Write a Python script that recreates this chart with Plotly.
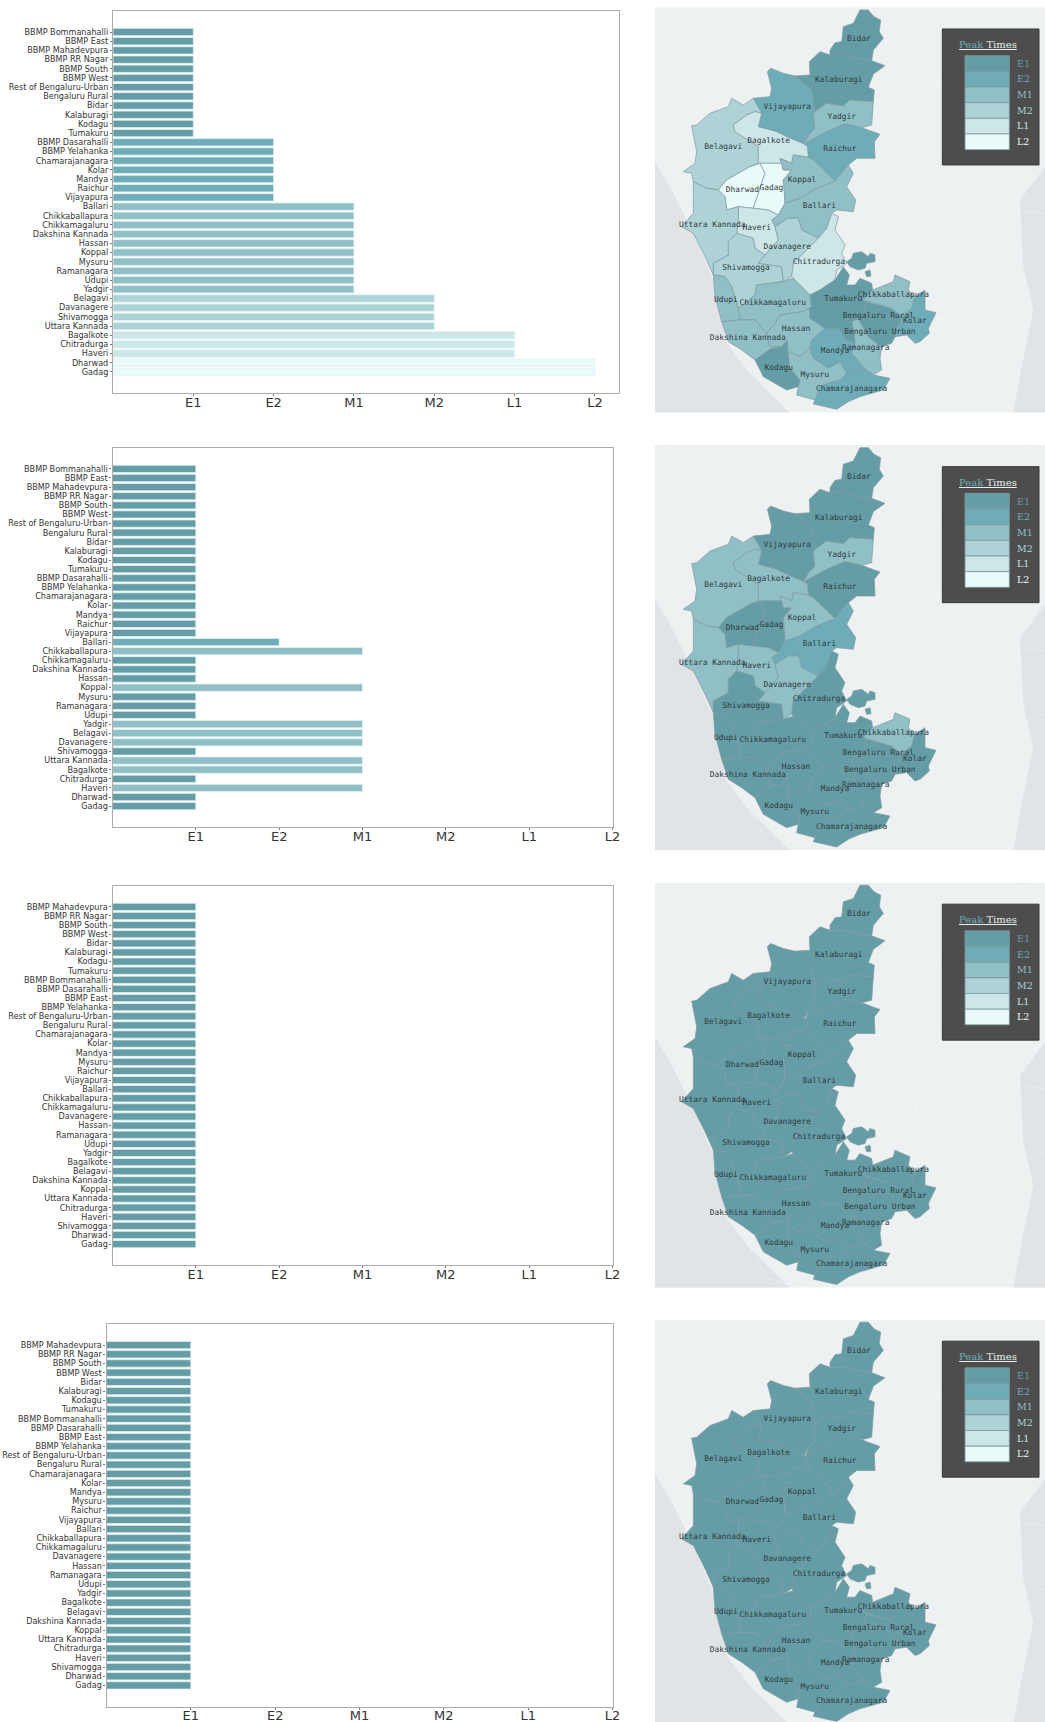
import plotly.graph_objects as go

W, H = 1045, 1722

# ---------- values ----------
LEVELS = ["E1", "E2", "M1", "M2", "L1", "L2"]
LEVEL_COLORS = ["#659da6", "#6eadb8", "#90bfc6", "#aed3d6", "#cde6e7", "#eafafa"]

P1_NAMES = ["BBMP Bommanahalli", "BBMP East", "BBMP Mahadevpura", "BBMP RR Nagar", "BBMP South", "BBMP West",
            "Rest of Bengaluru-Urban", "Bengaluru Rural", "Bidar", "Kalaburagi", "Kodagu", "Tumakuru",
            "BBMP Dasarahalli", "BBMP Yelahanka", "Chamarajanagara", "Kolar", "Mandya", "Raichur", "Vijayapura",
            "Ballari", "Chikkaballapura", "Chikkamagaluru", "Dakshina Kannada", "Hassan", "Koppal", "Mysuru",
            "Ramanagara", "Udupi", "Yadgir", "Belagavi", "Davanagere", "Shivamogga", "Uttara Kannada",
            "Bagalkote", "Chitradurga", "Haveri", "Dharwad", "Gadag"]
P1_PEAK = ["E1"] * 12 + ["E2"] * 7 + ["M1"] * 10 + ["M2"] * 4 + ["L1"] * 3 + ["L2"] * 2

P2_NAMES = P1_NAMES
P2_PEAK = ["E1"] * 19 + ["E2", "M1", "E1", "E1", "E1", "M1", "E1", "E1", "E1", "M1", "M1", "M1", "E1", "M1",
                         "M1", "E1", "M1", "E1", "E1"]

P3_NAMES = ["BBMP Mahadevpura", "BBMP RR Nagar", "BBMP South", "BBMP West", "Bidar", "Kalaburagi", "Kodagu",
            "Tumakuru", "BBMP Bommanahalli", "BBMP Dasarahalli", "BBMP East", "BBMP Yelahanka",
            "Rest of Bengaluru-Urban", "Bengaluru Rural", "Chamarajanagara", "Kolar", "Mandya", "Mysuru", "Raichur",
            "Vijayapura", "Ballari", "Chikkaballapura", "Chikkamagaluru", "Davanagere", "Hassan", "Ramanagara",
            "Udupi", "Yadgir", "Bagalkote", "Belagavi", "Dakshina Kannada", "Koppal", "Uttara Kannada",
            "Chitradurga", "Haveri", "Shivamogga", "Dharwad", "Gadag"]
P3_PEAK = ["E1"] * 38
P4_NAMES = P3_NAMES
P4_PEAK = ["E1"] * 38

# ---------- map data: district outlines and label anchors, in map units ----------
BIDAR = [(630, 30), (655, 30), (672, 50), (692, 60), (688, 95), (700, 115), (670, 150), (665, 182), (620, 175),
         (580, 165), (540, 165), (540, 150), (555, 128), (575, 125), (580, 80), (610, 70)]
KALABURAGI = [(478, 185), (510, 155), (540, 165), (580, 165), (620, 175), (665, 182), (705, 197), (670, 222),
              (655, 262), (673, 270), (670, 305), (600, 300), (580, 318), (530, 310), (495, 335), (485, 270),
              (435, 228), (480, 225)]
VIJAYAPURA = [(352, 215), (362, 205), (400, 220), (435, 228), (485, 270), (495, 335), (490, 345), (495, 385),
              (475, 405), (462, 432), (410, 410), (380, 395), (325, 380), (335, 340), (310, 295), (360, 290),
              (365, 265)]
YADGIR = [(495, 335), (530, 310), (580, 318), (600, 300), (670, 305), (665, 375), (635, 383), (585, 372),
          (530, 395), (468, 429), (475, 405), (495, 385), (490, 345)]
RAICHUR = [(462, 432), (530, 395), (585, 372), (635, 383), (690, 403), (673, 425), (675, 475), (620, 475),
           (595, 495), (555, 543), (490, 480), (475, 472), (472, 440)]
BELAGAVI = [(125, 378), (140, 375), (180, 340), (235, 320), (245, 295), (280, 315), (310, 295), (335, 340),
            (315, 335), (290, 345), (250, 375), (255, 395), (295, 420), (325, 440), (325, 490), (300, 500),
            (230, 540), (205, 570), (170, 565), (130, 545), (125, 520), (100, 515), (135, 490), (140, 455)]
BAGALKOTE = [(250, 375), (290, 345), (315, 335), (335, 340), (325, 380), (380, 395), (410, 410), (462, 432),
             (472, 440), (475, 472), (430, 465), (425, 490), (390, 475), (395, 490), (330, 490), (300, 500),
             (325, 490), (325, 440), (295, 420), (255, 395)]
DHARWAD = [(205, 570), (230, 540), (300, 500), (330, 490), (345, 520), (322, 590), (310, 625), (265, 620),
           (230, 630), (225, 590)]
GADAG = [(330, 490), (395, 490), (400, 510), (425, 510), (400, 540), (405, 590), (405, 610), (385, 645), (355, 630),
         (310, 625), (322, 590), (345, 520)]
KOPPAL = [(390, 475), (425, 490), (430, 465), (475, 472), (490, 480), (555, 543), (490, 570), (450, 595),
          (405, 610), (405, 590), (400, 540), (425, 510), (400, 510), (395, 490)]
BALLARI = [(555, 543), (595, 495), (610, 520), (590, 560), (617, 600), (610, 635), (560, 630), (545, 640),
           (530, 685), (505, 715), (455, 690), (445, 655), (415, 655), (375, 680), (365, 660), (385, 645),
           (405, 610), (450, 595), (490, 570)]
HAVERI = [(265, 620), (310, 625), (355, 630), (385, 645), (365, 660), (375, 680), (385, 720), (345, 765),
          (315, 745), (310, 715), (260, 700), (265, 650)]
UTTARA_KANNADA = [(130, 545), (170, 565), (205, 570), (225, 590), (230, 630), (265, 620), (265, 650), (260, 700),
                  (235, 725), (235, 765), (190, 790), (190, 825), (165, 770), (130, 700), (95, 680), (130, 640),
                  (130, 590)]
SHIVAMOGGA = [(260, 700), (310, 715), (315, 745), (345, 765), (325, 790), (360, 795), (395, 800), (400, 845),
              (320, 855), (315, 885), (265, 925), (245, 860), (225, 830), (190, 825), (190, 790), (235, 765),
              (235, 725)]
DAVANAGERE = [(375, 680), (415, 655), (445, 655), (455, 690), (505, 715), (430, 790), (430, 800), (425, 830),
              (400, 845), (395, 800), (360, 795), (325, 790), (345, 765), (385, 720)]
CHITRADURGA = [(505, 715), (530, 685), (545, 640), (565, 650), (555, 690), (585, 735), (575, 760), (590, 790),
               (560, 810), (555, 840), (510, 870), (480, 885), (430, 835), (425, 830), (430, 790)]
UDUPI = [(190, 825), (225, 830), (245, 860), (265, 925), (270, 960), (215, 965), (195, 890)]
CHIKKAMAGALURU = [(265, 925), (315, 885), (320, 855), (400, 845), (430, 835), (480, 885), (485, 920), (460, 935),
                  (390, 945), (375, 970), (350, 1000), (315, 960), (270, 960)]
DAKSHINA_KANNADA = [(215, 965), (270, 960), (315, 960), (350, 1000), (360, 1040), (395, 1040), (360, 1048),
                    (315, 1080), (275, 1050), (235, 1025)]
KODAGU = [(315, 1080), (360, 1048), (395, 1040), (412, 1020), (415, 1065), (420, 1105), (450, 1140), (445, 1160),
          (410, 1170), (375, 1150), (340, 1130)]
HASSAN = [(350, 1000), (375, 970), (390, 945), (460, 935), (485, 920), (480, 955), (525, 985), (485, 1020),
          (480, 1045), (450, 1070), (420, 1055), (415, 1065), (412, 1020), (395, 1040), (360, 1040)]
MANDYA = [(485, 1020), (525, 985), (565, 985), (590, 1020), (615, 1030), (605, 1060), (645, 1105), (590, 1120),
          (570, 1085), (535, 1105), (490, 1075), (480, 1045)]
MYSURU = [(420, 1055), (450, 1070), (480, 1045), (490, 1075), (535, 1105), (570, 1085), (590, 1120), (570, 1140),
          (535, 1150), (510, 1160), (495, 1200), (440, 1185), (445, 1160), (450, 1140), (420, 1105), (415, 1065)]
CHAMARAJANAGARA = [(495, 1200), (510, 1160), (535, 1150), (570, 1140), (590, 1120), (645, 1105), (670, 1125),
                   (720, 1135), (700, 1170), (630, 1190), (595, 1205), (560, 1228), (490, 1212)]
RAMANAGARA = [(605, 965), (625, 955), (640, 980), (655, 1010), (680, 1030), (695, 1040), (690, 1075), (695, 1110),
              (670, 1125), (645, 1105), (605, 1060), (615, 1030), (612, 1000)]
TUMAKURU = [(480, 885), (510, 870), (555, 840), (580, 800), (598, 825), (590, 855), (615, 855), (630, 835),
            (665, 850), (668, 870), (640, 900), (650, 905), (640, 945), (625, 955), (605, 965), (612, 1000),
            (615, 1030), (590, 1020), (565, 985), (525, 985), (480, 955), (478, 925), (485, 920)]
TUMAKURU_PAVAGADA = [(610, 760), (635, 755), (655, 770), (660, 760), (675, 765), (675, 785), (650, 790), (645, 805),
                     (625, 810), (600, 800), (590, 785), (605, 775)]
TUMAKURU_ISLET = [(645, 815), (660, 810), (663, 828), (650, 830)]
BENGALURU_RURAL = [(650, 905), (690, 915), (725, 925), (755, 950), (740, 990), (725, 960), (690, 945), (660, 945),
                   (640, 945)]
BENGALURU_URBAN = [(640, 945), (660, 945), (690, 945), (725, 960), (740, 990), (735, 1010), (725, 1030), (695, 1040),
                   (680, 1030), (655, 1010), (640, 980), (625, 955)]
CHIKKABALLAPURA = [(668, 870), (730, 845), (735, 825), (760, 835), (780, 845), (775, 870), (795, 890), (785, 925),
                   (755, 950), (725, 925), (690, 915), (650, 905), (640, 900)]
KOLAR = [(795, 890), (825, 870), (825, 930), (858, 938), (835, 985), (838, 1000), (810, 1025), (795, 1030),
         (770, 1005), (735, 1010), (740, 990), (755, 950), (785, 925)]

WEST_SEA = [(15, 485), (60, 560), (125, 690), (190, 840), (230, 1030), (300, 1120), (380, 1200), (420, 1238), (15, 1238)]
EAST_SEA = [(1185, 500), (1110, 600), (1120, 800), (1150, 930), (1115, 1100), (1090, 1238), (1185, 1238)]
ROADS = [
    [(15, 60), (120, 110), (230, 170), (340, 130), (470, 60)],
    [(60, 25), (110, 200), (170, 340)],
    [(15, 250), (110, 230), (240, 280)],
    [(700, 120), (820, 170), (870, 260)],
    [(700, 300), (800, 380), (900, 520), (1000, 620), (1185, 640)],
    [(680, 470), (760, 560), (800, 700), (820, 800), (900, 880), (1040, 880), (1185, 830)],
    [(620, 640), (700, 690), (860, 720), (1000, 690), (1100, 600)],
    [(860, 950), (960, 1000), (1040, 1100), (1080, 1238)],
    [(720, 1130), (820, 1090), (930, 1110), (1100, 1060)],
    [(300, 1120), (350, 1210), (460, 1238)],
    [(1030, 60), (1130, 30), (1185, 90)],
]

LABELS = ["Bidar", "Kalaburagi", "Vijayapura", "Yadgir", "Raichur", "Belagavi", "Bagalkote", "Koppal", "Dharwad",
          "Gadag", "Ballari", "Uttara Kannada", "Haveri", "Davanagere", "Chitradurga", "Shivamogga", "Udupi",
          "Chikkamagaluru", "Tumakuru", "Chikkaballapura", "Bengaluru Rural", "Kolar", "Bengaluru Urban", "Hassan",
          "Dakshina Kannada", "Ramanagara", "Mandya", "Kodagu", "Mysuru", "Chamarajanagara"]
LABEL_X = [627, 566, 412, 575, 570, 220, 356, 456, 277, 364, 508, 187, 320, 412, 507, 288, 228, 368, 580, 730, 685,
           795, 690, 438, 293, 647, 555, 386, 494, 605]
LABEL_Y = [117, 240, 322, 352, 447, 441, 423, 540, 570, 563, 619, 675, 684, 742, 785, 805, 900, 908, 896, 886, 947,
           963, 996, 988, 1013, 1043, 1054, 1104, 1124, 1167]

SHAPES = {
    "Bidar": [BIDAR], "Kalaburagi": [KALABURAGI], "Vijayapura": [VIJAYAPURA], "Yadgir": [YADGIR],
    "Raichur": [RAICHUR], "Belagavi": [BELAGAVI], "Bagalkote": [BAGALKOTE], "Dharwad": [DHARWAD], "Gadag": [GADAG],
    "Koppal": [KOPPAL], "Ballari": [BALLARI], "Haveri": [HAVERI], "Uttara Kannada": [UTTARA_KANNADA],
    "Shivamogga": [SHIVAMOGGA], "Davanagere": [DAVANAGERE], "Chitradurga": [CHITRADURGA], "Udupi": [UDUPI],
    "Chikkamagaluru": [CHIKKAMAGALURU], "Dakshina Kannada": [DAKSHINA_KANNADA], "Kodagu": [KODAGU],
    "Hassan": [HASSAN], "Mandya": [MANDYA], "Mysuru": [MYSURU], "Chamarajanagara": [CHAMARAJANAGARA],
    "Ramanagara": [RAMANAGARA], "Tumakuru": [TUMAKURU, TUMAKURU_PAVAGADA, TUMAKURU_ISLET],
    "Bengaluru Rural": [BENGALURU_RURAL], "Rest of Bengaluru-Urban": [BENGALURU_URBAN],
    "Chikkaballapura": [CHIKKABALLAPURA], "Kolar": [KOLAR],
}

# ---------- layout ----------
BAR_BOXES = [(113, 619, 11, 393, 6.3), (112.5, 612.5, 448, 827, 6), (112.5, 612.5, 886, 1265, 6),
             (106.5, 612.5, 1324, 1706.5, 6)]
MAP_TOPS = [7.3, 445, 882.5, 1319.5]
MAP_L, MAP_R = 655, 1045
BORDER = "#7e9aa0"
SPINE = "#ababab"
PANELS = [(P1_NAMES, P1_PEAK), (P2_NAMES, P2_PEAK), (P3_NAMES, P3_PEAK), (P4_NAMES, P4_PEAK)]

fig = go.Figure()


def outline(parts):
    xs, ys = [], []
    for part in parts:
        xs += [p[0] for p in part] + [part[0][0], None]
        ys += [p[1] for p in part] + [part[0][1], None]
    return xs, ys


axis = 1
for i, ((names, peak), (l, r, t, b, xmax)) in enumerate(zip(PANELS, BAR_BOXES)):
    xa, ya = ("x" if axis == 1 else f"x{axis}"), ("y" if axis == 1 else f"y{axis}")
    xk, yk = xa.replace("x", "xaxis"), ya.replace("y", "yaxis")
    fig.add_trace(go.Bar(
        x=[LEVELS.index(v) + 1 for v in peak], y=names, orientation="h", width=0.8, xaxis=xa, yaxis=ya,
        marker=dict(color=[LEVEL_COLORS[LEVELS.index(v)] for v in peak], line=dict(color="#e2f2f4", width=0.8)),
        showlegend=False, hoverinfo="skip"))
    n = len(names)
    fig.layout[xk] = dict(domain=[l / W, r / W], range=[0, xmax], tickmode="array",
                          tickvals=list(range(1, 7)), ticktext=LEVELS, ticks="outside", ticklen=2, tickwidth=1,
                          tickcolor="#777", tickfont=dict(family="DejaVu Sans", size=13, color="#333"),
                          ticklabelstandoff=-5, automargin=False,
                          showgrid=False, zeroline=False, showline=True, linecolor=SPINE, linewidth=1.2, mirror=True,
                          anchor=ya, fixedrange=True)
    fig.layout[yk] = dict(domain=[1 - b / H, 1 - t / H], type="category", categoryorder="array", categoryarray=names,
                          range=[n - 1 + 2.29, -2.29], tickmode="linear", dtick=1, ticks="outside", ticklen=2,
                          tickwidth=1, tickcolor="#777", tickfont=dict(family="DejaVu Sans", size=8.1, color="#333"),
                          showgrid=False, zeroline=False, showline=True, linecolor=SPINE, linewidth=1.2, mirror=True,
                          anchor=xa, fixedrange=True, automargin=False)
    axis += 1

    # map
    xa, ya = f"x{axis}", f"y{axis}"
    xk, yk = f"xaxis{axis}", f"yaxis{axis}"
    top = MAP_TOPS[i]
    bottom = min(top + 405.3, H)
    y0, y1 = 22, 22 + (bottom - top) * 3
    fig.layout[xk] = dict(domain=[MAP_L / W, MAP_R / W], range=[15, 1185], visible=False, fixedrange=True, anchor=ya,
                          automargin=False)
    fig.layout[yk] = dict(domain=[1 - bottom / H, 1 - top / H], range=[y1, y0], visible=False, fixedrange=True,
                          anchor=xa, automargin=False)
    fig.add_shape(type="rect", xref=xa, yref=ya, x0=15, x1=1185, y0=y0, y1=y1, fillcolor="#eef1f2", line_width=0,
                  layer="below")
    for sea in (WEST_SEA, EAST_SEA):
        sx, sy = outline([sea])
        fig.add_trace(go.Scatter(x=sx, y=sy, xaxis=xa, yaxis=ya, mode="lines", fill="toself", fillcolor="#e0e4e7",
                                 line=dict(width=0), showlegend=False, hoverinfo="skip"))
    rx, ry = [], []
    for road in ROADS:
        rx += [p[0] for p in road] + [None]
        ry += [p[1] for p in road] + [None]
    fig.add_trace(go.Scatter(x=rx, y=ry, xaxis=xa, yaxis=ya, mode="lines",
                             line=dict(color="rgba(255,255,255,0.4)", width=0.7),
                             showlegend=False, hoverinfo="skip"))
    lookup = dict(zip(names, peak))
    for name, parts in SHAPES.items():
        sx, sy = outline(parts)
        color = LEVEL_COLORS[LEVELS.index(lookup[name])]
        fig.add_trace(go.Scatter(x=sx, y=sy, xaxis=xa, yaxis=ya, mode="lines", fill="toself", fillcolor=color,
                                 line=dict(color=BORDER, width=0.7), showlegend=False, hoverinfo="skip"))
    fig.add_trace(go.Scatter(x=LABEL_X, y=LABEL_Y, text=LABELS, xaxis=xa, yaxis=ya, mode="text",
                             textposition="middle center",
                             textfont=dict(family="DejaVu Sans Mono", size=7.9, color="#2f3a3d"),
                             showlegend=False, hoverinfo="skip"))
    # legend card
    fig.add_shape(type="rect", xref=xa, yref=ya, x0=877, x1=1167, y0=87, y1=495, fillcolor="#4d4d4d",
                  line=dict(color="#3a3a3a", width=1))
    row = 47
    for j, (lev, col) in enumerate(zip(LEVELS, LEVEL_COLORS)):
        fig.add_shape(type="rect", xref=xa, yref=ya, x0=945, x1=1078, y0=167 + j * row, y1=167 + (j + 1) * row,
                      fillcolor=col, line=dict(color=BORDER, width=0.8))
        fig.add_annotation(x=1095, y=190 + j * row, xref=xa, yref=ya, text=lev, showarrow=False, xanchor="left",
                           font=dict(family="DejaVu Serif", size=9.5, color=col))
    fig.add_annotation(x=1015, y=133, xref=xa, yref=ya, showarrow=False,
                       text='<u><span style="color:#6eadb8">Peak</span> Times</u>',
                       font=dict(family="DejaVu Serif", size=10, color="#e6eeee"))
    axis += 1

fig.update_layout(width=W, height=H, autosize=False, margin=dict(l=0, r=0, t=0, b=0, autoexpand=False),
                  paper_bgcolor="white", plot_bgcolor="white", showlegend=False, bargap=0.2)
fig.write_html("out.html", config={"displayModeBar": False, "responsive": False},
               default_width=f"{W}px", default_height=f"{H}px",
               post_script="document.body.style.margin='0';document.body.style.overflow='hidden';")
